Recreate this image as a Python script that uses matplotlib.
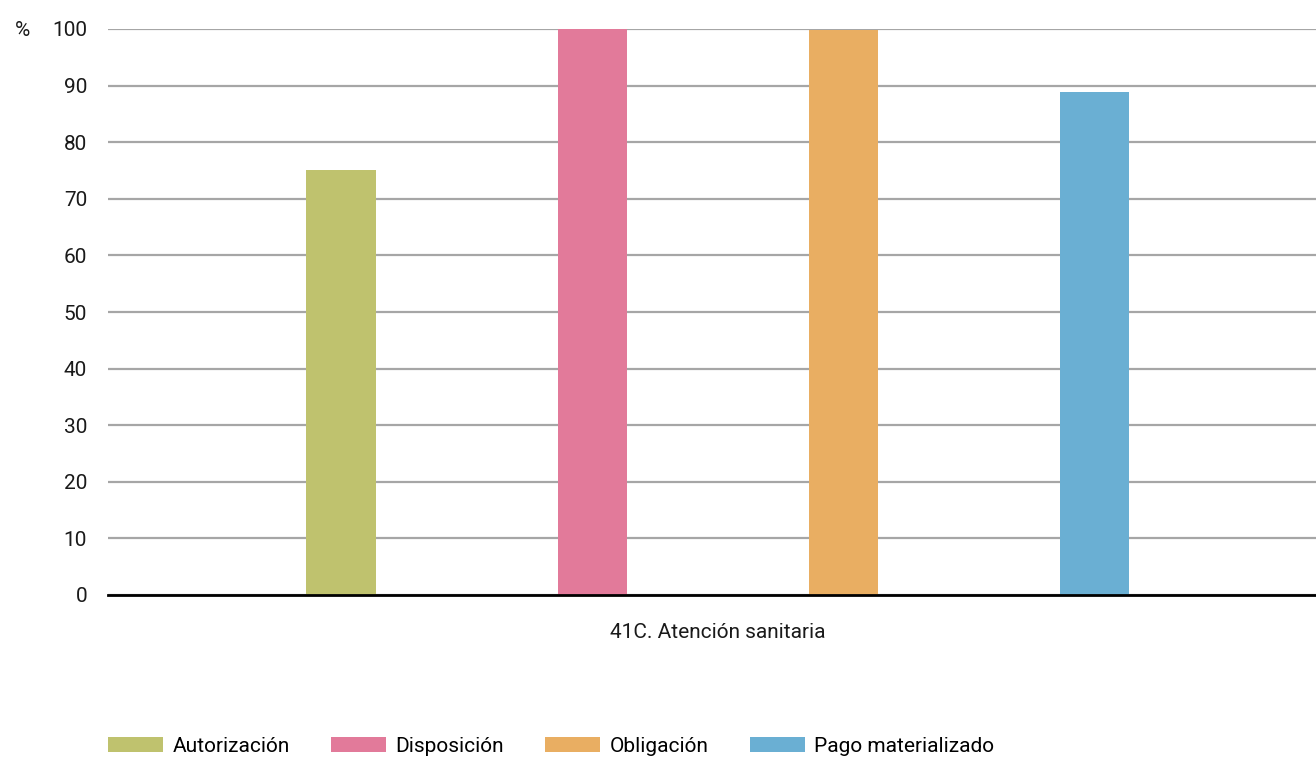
import matplotlib
matplotlib.use('Agg')
import matplotlib.pyplot as plt
from matplotlib.font_manager import fontManager

# Data
CATEGORY = '41C. Atención sanitaria'
SERIES = ['Autorización', 'Disposición', 'Obligación', 'Pago materializado']
VALUES = [75.1, 100.0, 99.9, 88.9]
COLORS = ['#BFC26E', '#E27A9A', '#E9AE62', '#6AAFD3']
YTICKS = [0, 10, 20, 30, 40, 50, 60, 70, 80, 90, 100]

names = {f.name for f in fontManager.ttflist}
family = [f for f in ['Liberation Sans Narrow', 'Roboto', 'DejaVu Sans'] if f in names]
plt.rcParams['font.family'] = family

FS = 15
TXT = '#1a1a1a'

fig = plt.figure(figsize=(13.16, 7.58), dpi=100)
ax = fig.add_axes([108 / 1316, 1 - 595 / 758, 1 - 108 / 1316, (595 - 29) / 758])

offsets = [-1.5, -0.5, 0.5, 1.5]
for off, name, val, col in zip(offsets, SERIES, VALUES, COLORS):
    ax.bar(off, val, width=0.275, color=col, label=name, zorder=3)

ax.set_ylim(0, 100)
ax.set_xlim(-2.427, 2.38)
ax.set_yticks(YTICKS)
ax.set_yticklabels([str(t) for t in YTICKS], fontsize=FS, color=TXT)
ax.set_xticks([0])
ax.set_xticklabels([CATEGORY], fontsize=FS, color=TXT)
ax.tick_params(axis='y', length=0, pad=15)
ax.tick_params(axis='x', length=0, pad=20)

ax.yaxis.grid(True, color='#A6A6A6', linewidth=1.6, zorder=0)
for s in ['top', 'right', 'left']:
    ax.spines[s].set_visible(False)
ax.spines['bottom'].set_linewidth(2)
ax.spines['bottom'].set_color('black')
ax.spines['bottom'].set_zorder(4)

fig.text(15 / 1316, 1 - 30 / 758, '%', fontsize=FS, va='center', ha='left', color=TXT)

fig.legend(loc='center left', bbox_to_anchor=(100 / 1316, 1 - 746 / 758), ncol=4,
           frameon=False, fontsize=FS, handlelength=2.64, handleheight=0.7,
           handletextpad=0.43, columnspacing=2.0, borderaxespad=0)

fig.savefig('out.png', dpi=100)
